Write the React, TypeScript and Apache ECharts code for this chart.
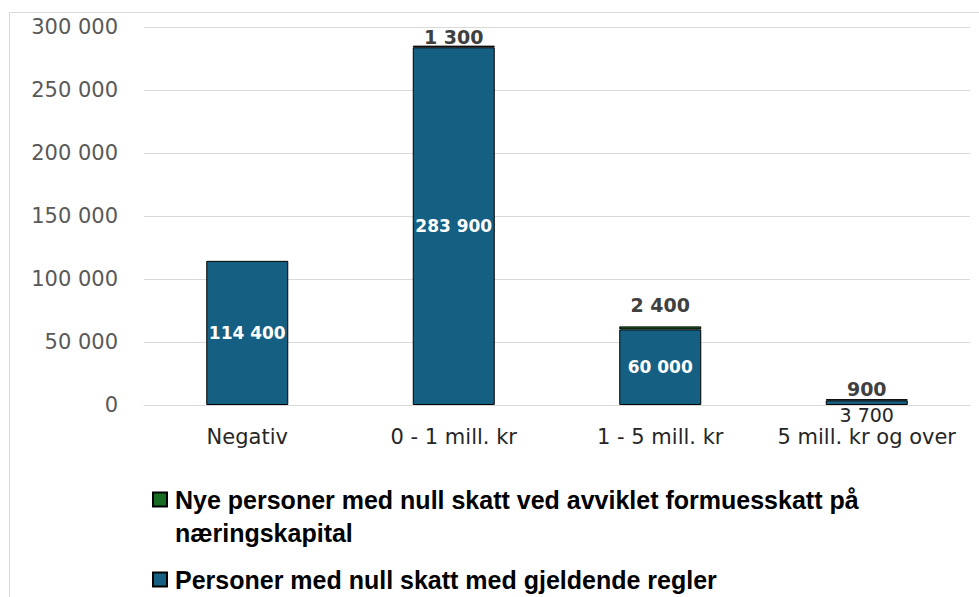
import React, { useEffect, useRef } from "react";
import * as echarts from "echarts";

const categories = ["Negativ", "0 - 1 mill. kr", "1 - 5 mill. kr", "5 mill. kr og over"];
const currentRulesName = "Personer med null skatt med gjeldende regler";
const newZeroName = "Nye personer med null skatt ved avviklet formuesskatt på næringskapital";
const currentRules = [114400, 283900, 60000, 3700];
const newZeroTax: (number | null)[] = [null, 1300, 2400, 900];
const yMin = 0;
const yMax = 300000;
const yStep = 50000;

const BLUE = "#156082";
const GREEN = "#196B24";

const fmt = (v: number) => String(v).replace(/\B(?=(\d{3})+(?!\d))/g, " ");

export default function App() {
  const ref = useRef<HTMLDivElement>(null);
  useEffect(() => {
    if (!ref.current) return;
    const chart = echarts.init(ref.current, null, { renderer: "svg" });
    const greenDist = [0, -1, 12, 1];
    const option: any = {
      animation: false,
      backgroundColor: "#ffffff",
      textStyle: { fontFamily: "DejaVu Sans" },
      graphic: [
        {
          type: "rect",
          silent: true,
          z: -1,
          shape: { x: 9.5, y: 12.5, width: 1000, height: 600 },
          style: { fill: "none", stroke: "#d9d9d9", lineWidth: 1 },
        },
      ],
      grid: { left: 144, right: 9, top: 27, bottom: 192, containLabel: false },
      xAxis: {
        type: "category",
        data: categories,
        axisLine: { show: true, lineStyle: { color: "#d9d9d9", width: 1 } },
        axisTick: { show: false },
        axisLabel: {
          color: "#262626",
          fontSize: 21,
          fontFamily: "DejaVu Sans",
          margin: 21,
          interval: 0,
        },
      },
      yAxis: {
        type: "value",
        min: yMin,
        max: yMax,
        interval: yStep,
        axisLine: { show: false },
        axisTick: { show: false },
        splitLine: { lineStyle: { color: "#d9d9d9", width: 1 } },
        axisLabel: {
          color: "#595959",
          fontSize: 21,
          fontFamily: "DejaVu Sans",
          margin: 26,
          formatter: (v: number) => fmt(v),
        },
      },
      legend: {
        orient: "vertical",
        left: 152,
        top: 450,
        padding: 0,
        itemGap: 14,
        itemWidth: 14,
        itemHeight: 14,
        icon: "rect",
        formatter: (name: string) =>
          name === newZeroName ? " \n" + name.replace(" næringskapital", "\nnæringskapital") : name,
        textStyle: {
          fontFamily: "Liberation Sans",
          fontWeight: "bold",
          fontSize: 25,
          color: "#000000",
          lineHeight: 33,
          padding: [0, 0, 0, 3],
        },
        data: [{ name: newZeroName }, { name: currentRulesName }],
      },
      series: [
        {
          name: currentRulesName,
          type: "bar",
          stack: "total",
          barWidth: 82,
          itemStyle: { color: BLUE, borderColor: "#000000", borderWidth: 1 },
          label: {
            show: true,
            position: "inside",
            color: "#ffffff",
            fontWeight: "bold",
            fontSize: 17,
            fontFamily: "DejaVu Sans",
            formatter: (p: any) => fmt(p.value),
          },
          data: currentRules.map((v, i) =>
            i === 3
              ? {
                  value: v,
                  label: {
                    position: "bottom",
                    distance: 0,
                    color: "#262626",
                    fontWeight: "normal",
                    fontSize: 19,
                  },
                }
              : { value: v }
          ),
        },
        {
          name: newZeroName,
          type: "bar",
          stack: "total",
          barWidth: 82,
          itemStyle: { color: GREEN, borderColor: "#000000", borderWidth: 1 },
          label: {
            show: true,
            position: "top",
            color: "#404040",
            fontWeight: "bold",
            fontSize: 19,
            fontFamily: "DejaVu Sans",
            formatter: (p: any) => (p.value == null ? "" : fmt(p.value)),
          },
          data: newZeroTax.map((v, i) => ({ value: v, label: { distance: greenDist[i] } })),
        },
      ],
    };
    chart.setOption(option);
    return () => chart.dispose();
  }, []);
  return (
    <div
      ref={ref}
      style={{ position: "fixed", left: 0, top: 0, width: 979, height: 597 }}
    />
  );
}
